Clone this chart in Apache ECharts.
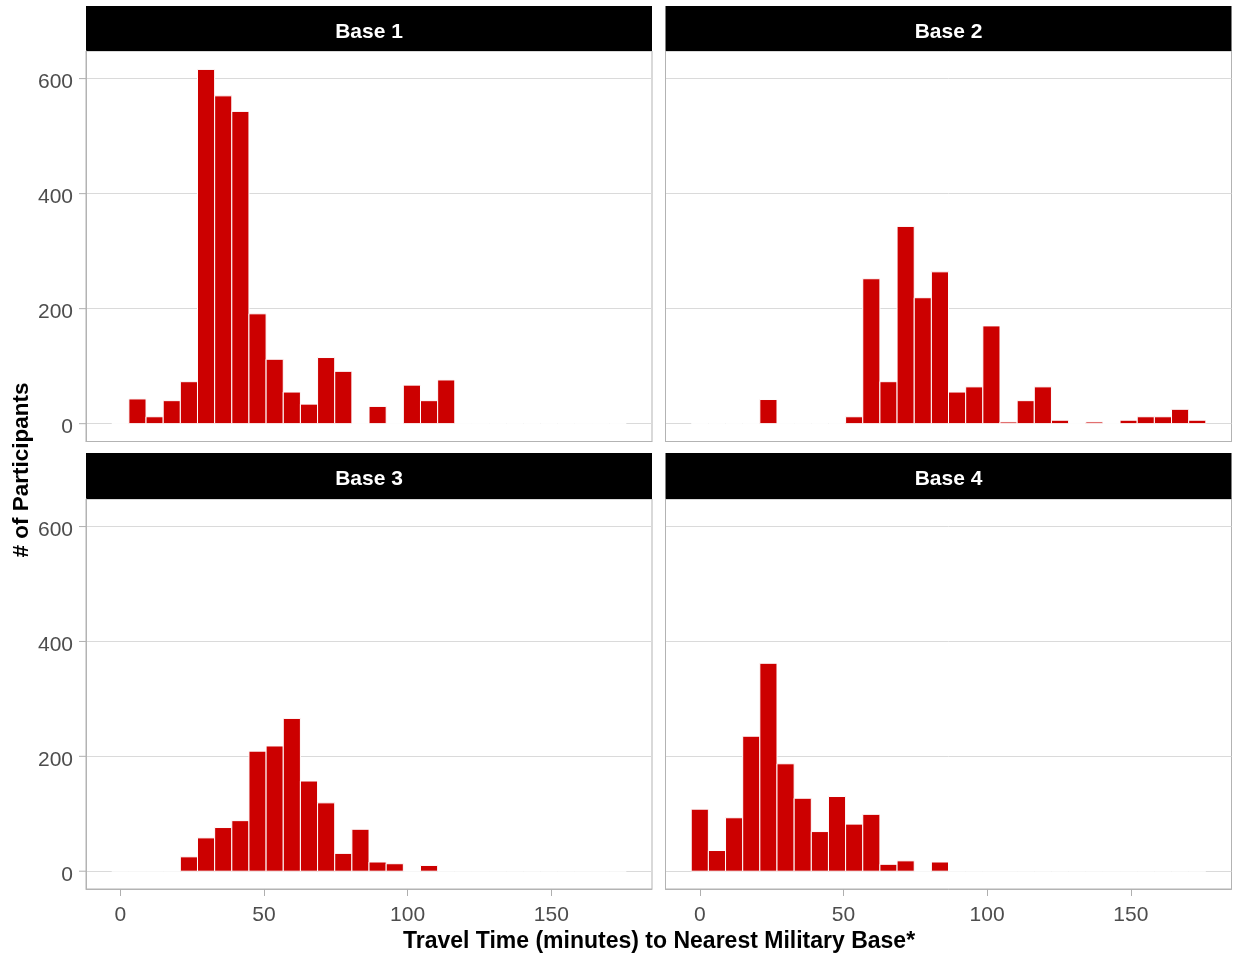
<!DOCTYPE html>
<html><head><meta charset="utf-8">
<script src="https://cdn.jsdelivr.net/npm/echarts@6/dist/echarts.min.js"></script>
<style>html,body{margin:0;padding:0;background:#fff}#c{width:1233px;height:957px}</style>
</head><body><div id="c"></div>
<script>
// ---- data ----
const panels = ['Base 1', 'Base 2', 'Base 3', 'Base 4'];
const binWidth = 5.97;
const binCenters = [0, 5.97, 11.94, 17.91, 23.88, 29.85, 35.82, 41.79, 47.76, 53.73,
  59.7, 65.67, 71.64, 77.61, 83.58, 89.55, 95.52, 101.49, 107.46, 113.43,
  119.4, 125.37, 131.34, 137.31, 143.28, 149.25, 155.22, 161.19, 167.16, 173.13];
const base1 = [0, 43, 12, 40, 73, 616, 570, 543, 191, 112, 55, 34, 115, 91, 0, 30, 0, 67, 40, 76,
  0, 0, 0, 0, 0, 0, 0, 0, 0, 0];
const base2 = [0, 0, 0, 0, 42, 0, 0, 0, 0, 12, 252, 73, 343, 219, 264, 55, 64, 170, 3, 40,
  64, 6, 0, 3, 0, 6, 12, 12, 25, 6];
const base3 = [0, 0, 0, 0, 25, 58, 76, 88, 209, 218, 266, 157, 119, 31, 73, 16, 13, 0, 10, 0,
  0, 0, 0, 0, 0, 0, 0, 0, 0, 0];
const base4 = [108, 36, 93, 235, 362, 187, 127, 69, 130, 82, 99, 12, 18, 0, 16, 0, 0, 0, 0, 0,
  0, 0, 0, 0, 0, 0, 0, 0, 0, 0];
const xTicks = [0, 50, 100, 150];
const yTicks = [0, 200, 400, 600];
const xTitle = 'Travel Time (minutes) to Nearest Military Base*';
const yTitle = '# of Participants';

const counts = [base1, base2, base3, base4];
const FONT = '"Liberation Sans", Arial, Helvetica, sans-serif';
const boxes = [
  {left: 86, top: 51, width: 566, height: 390.5, stripTop: 6, stripH: 45},
  {left: 665.5, top: 51, width: 566, height: 390.5, stripTop: 6, stripH: 45},
  {left: 86, top: 499, width: 566, height: 390, stripTop: 453, stripH: 46},
  {left: 665.5, top: 499, width: 566, height: 390, stripTop: 453, stripH: 46}
];

const grids = [], xAxes = [], yAxes = [], series = [], graphics = [];
boxes.forEach((b, i) => {
  const leftCol = i % 2 === 0, bottomRow = i >= 2;
  grids.push({left: b.left, top: b.top, width: b.width, height: b.height,
    show: true, borderColor: '#B3B3B3', borderWidth: 1, backgroundColor: '#fff', containLabel: false});
  xAxes.push({type: 'value', gridIndex: i, min: -11.94, max: 185.05, position: 'bottom',
    axisLine: {show: true, onZero: false, lineStyle: {color: '#B3B3B3', width: 1}},
    axisTick: {show: bottomRow, inside: false, length: 7, lineStyle: {color: '#AFAFAF', width: 1}, customValues: xTicks},
    axisLabel: {show: bottomRow, customValues: xTicks, fontSize: 21, color: '#4D4D4D', margin: 16, fontFamily: FONT},
    splitLine: {show: false}});
  // y tick marks are drawn as part of each y label (value, gap, short grey dash ending at the panel edge)
  yAxes.push({type: 'value', gridIndex: i, min: -31, max: 648, position: 'left',
    axisLine: {show: true, onZero: false, lineStyle: {color: '#B3B3B3', width: 1}},
    axisTick: {show: false, customValues: yTicks},
    axisLabel: {show: leftCol, customValues: yTicks, margin: 0,
      formatter: '{v|{value}}{s|}{t|}',
      rich: {
        v: {fontSize: 21, color: '#4D4D4D', fontFamily: FONT, padding: [8, 0, 0, 0], verticalAlign: 'middle'},
        s: {width: 6, height: 1, verticalAlign: 'middle'},
        t: {width: 7, height: 1, backgroundColor: '#AFAFAF', verticalAlign: 'middle'}
      }},
    splitLine: {show: true, lineStyle: {color: '#DADADA', width: 1}}});
  series.push({
    type: 'custom', xAxisIndex: i, yAxisIndex: i, z: 3,
    encode: {x: 0, y: 1},
    data: binCenters.map((c, j) => [c, counts[i][j]]),
    renderItem: function (params, api) {
      const c = api.value(0), v = api.value(1);
      const p0 = api.coord([c - binWidth / 2, 0]);
      const p1 = api.coord([c + binWidth / 2, v]);
      if (v === 0) {
        return {type: 'line', shape: {x1: p0[0], y1: p0[1], x2: p1[0], y2: p0[1]},
          style: {stroke: '#fff', lineWidth: 1.2}};
      }
      return {type: 'rect', shape: {x: p0[0], y: p1[1], width: p1[0] - p0[0], height: p0[1] - p1[1]},
        style: {fill: '#CC0000', stroke: '#fff', lineWidth: 1}};
    }
  });
  graphics.push({type: 'rect', left: b.left, top: b.stripTop,
    shape: {width: b.width, height: b.stripH}, style: {fill: '#000'}});
  graphics.push({type: 'text', x: b.left + b.width / 2, y: b.stripTop + b.stripH / 2 + 3.5,
    style: {text: panels[i], fill: '#fff', font: 'bold 21px ' + FONT, textAlign: 'center', textVerticalAlign: 'middle'}});
});
graphics.push({type: 'text', x: 659, y: 942,
  style: {text: xTitle, fill: '#000', font: 'bold 23px ' + FONT, textAlign: 'center', textVerticalAlign: 'middle'}});
graphics.push({type: 'text', x: 22, y: 470, rotation: Math.PI / 2,
  style: {text: yTitle, fill: '#000', font: 'bold 22.5px ' + FONT, textAlign: 'center', textVerticalAlign: 'middle'}});

const chart = echarts.init(document.getElementById('c'), null, {renderer: 'canvas'});
chart.setOption({
  animation: false,
  backgroundColor: '#fff',
  grid: grids, xAxis: xAxes, yAxis: yAxes, series: series, graphic: graphics
});
</script></body></html>
